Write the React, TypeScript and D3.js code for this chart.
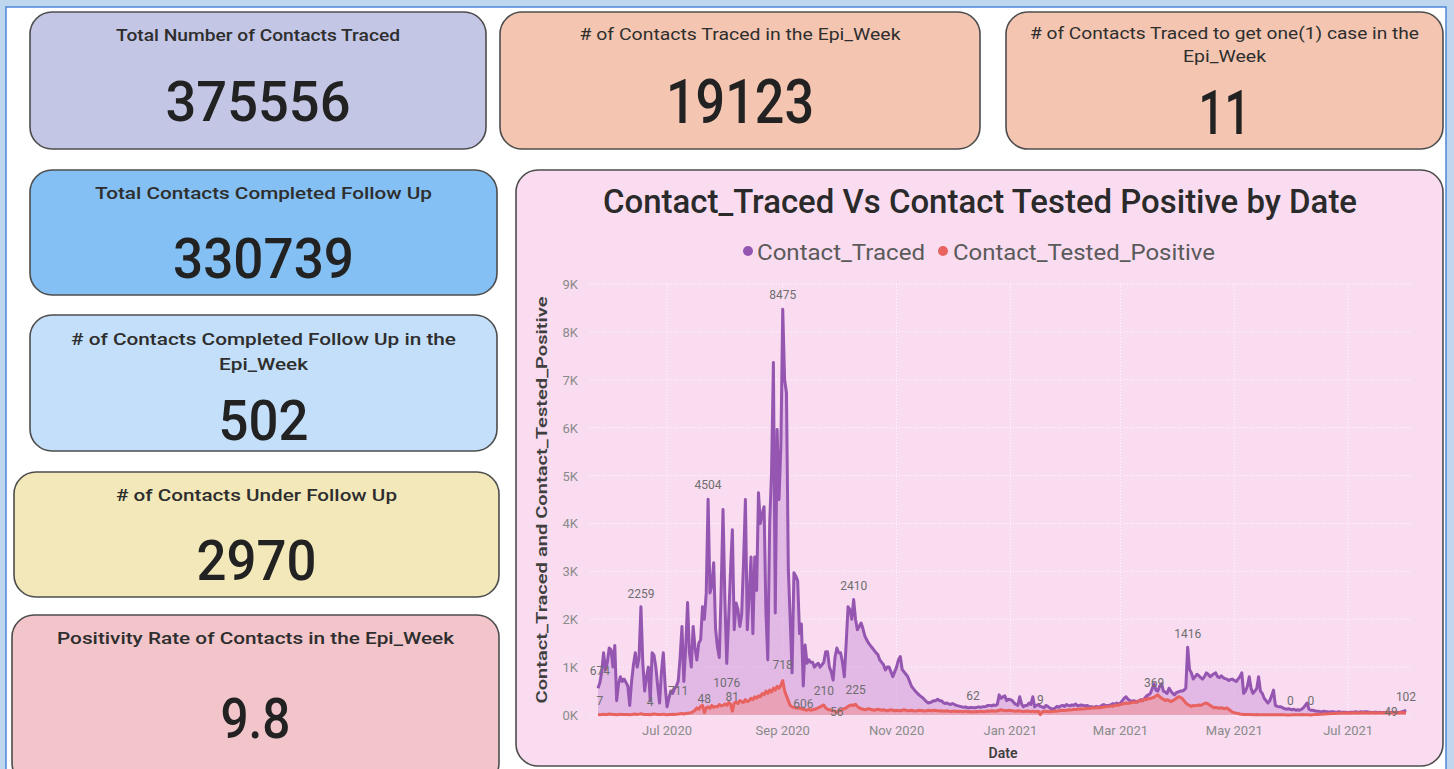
import React from 'react';
import * as d3 from 'd3';

// ---------------- DATA ----------------
const START_DATE = '2020-05-25';

const tracedValues: number[] = [
  560, 674, 900, 1300, 940, 1100, 1400, 1360, 1000, 1450,
  300, 650, 800, 700, 750, 680, 600, 200, 700, 1050,
  1300, 1000, 1200, 2259, 1100, 500, 800, 1000, 300, 1300,
  1250, 1000, 600, 250, 900, 1300, 600, 170, 350, 500,
  450, 550, 600, 711, 1200, 1850, 700, 1400, 2350, 1300,
  1000, 1850, 1400, 1150, 1500, 1570, 2260, 2000, 2550, 4504,
  2550, 2700, 3180, 1800, 1420, 1200, 2600, 4290, 2400, 1076,
  2000, 3000, 3870, 1780, 2340, 2200, 1850, 2100, 3200, 4500,
  1780, 2500, 3300, 1700, 3300, 2600, 4640, 4000, 4200, 4350,
  2130, 1150, 4000, 5060, 7360, 2130, 5960, 4500, 5600, 8475,
  7000, 6730, 3030, 2000, 880, 2970, 2900, 2800, 1700, 1900,
  606, 1460, 1080, 1150, 1100, 1100, 1000, 1050, 1080, 1000,
  1050, 1100, 1320, 1320, 1000, 900, 730, 1200, 1400, 1300,
  1300, 1100, 800, 1500, 2260, 2200, 2000, 2410, 2000, 1780,
  1850, 1920, 1800, 1650, 1570, 1500, 1450, 1400, 1350, 1300,
  1260, 1150, 1100, 1050, 940, 1000, 1000, 900, 800, 900,
  1000, 1150, 1220, 950, 900, 850, 800, 700, 600, 550,
  500, 460, 420, 390, 360, 320, 280, 250, 260, 280,
  300, 300, 330, 300, 300, 260, 240, 250, 230, 220,
  240, 220, 200, 190, 180, 170, 160, 170, 150, 150,
  160, 150, 150, 160, 170, 160, 170, 170, 180, 200,
  200, 190, 210, 200, 220, 420, 350, 380, 400, 300,
  330, 320, 300, 250, 220, 200, 380, 230, 170, 200,
  200, 250, 220, 380, 170, 200, 220, 180, 170, 150,
  200, 180, 150, 130, 120, 150, 180, 160, 190, 200,
  180, 220, 200, 190, 210, 200, 230, 190, 200, 210,
  200, 190, 200, 180, 170, 170, 160, 180, 170, 170,
  200, 220, 190, 200, 200, 220, 240, 220, 250, 230,
  250, 300, 350, 380, 330, 300, 280, 300, 290, 270,
  300, 320, 300, 350, 400, 420, 450, 550, 650, 520,
  500, 600, 650, 500, 480, 450, 560, 500, 450, 420,
  470, 480, 500, 500, 520, 560, 1416, 950, 880, 750,
  800, 850, 820, 780, 750, 800, 880, 850, 800, 830,
  860, 880, 800, 780, 820, 780, 760, 750, 720, 740,
  750, 720, 700, 750, 800, 880, 450, 500, 600, 800,
  550, 450, 500, 550, 800, 500, 450, 350, 300, 250,
  300, 400, 520, 200, 180, 170, 170, 150, 130, 120,
  130, 120, 110, 120, 100, 110, 100, 120, 150, 200,
  250, 120, 100, 100, 90, 80, 80, 70, 70, 80,
  70, 70, 60, 70, 70, 60, 60, 70, 60, 60,
  60, 60, 50, 60, 60, 60, 70, 60, 60, 70,
  60, 70, 70, 60, 60, 50, 60, 60, 50, 60,
  50, 50, 50, 60, 60, 50, 60, 60, 60, 50,
  60, 70, 80, 102,
];

const positiveValues: number[] = [
  10, 7, 12, 15, 8, 10, 20, 15, 10, 12,
  5, 10, 15, 12, 10, 8, 12, 6, 10, 15,
  20, 12, 18, 25, 15, 10, 12, 8, 4, 15,
  20, 15, 10, 8, 12, 18, 10, 6, 10, 12,
  15, 12, 18, 20, 25, 30, 20, 30, 35, 40,
  50, 70, 100, 150, 120, 180, 200, 48, 150, 170,
  140, 200, 160, 180, 170, 220, 190, 200, 230, 200,
  260, 230, 81, 250, 270, 240, 300, 280, 260, 320,
  280, 300, 350, 320, 380, 350, 400, 380, 450, 420,
  500, 450, 520, 480, 560, 520, 600, 560, 620, 718,
  500, 400, 300, 200, 170, 160, 150, 140, 150, 130,
  120, 110, 100, 120, 100, 110, 120, 130, 150, 170,
  190, 210, 150, 120, 110, 100, 90, 80, 56, 90,
  100, 120, 130, 150, 180, 200, 210, 200, 225, 180,
  150, 130, 120, 110, 120, 130, 120, 110, 100, 110,
  120, 110, 100, 110, 100, 90, 100, 110, 100, 90,
  100, 95, 90, 100, 110, 100, 90, 95, 100, 90,
  85, 90, 100, 95, 90, 85, 90, 100, 95, 90,
  100, 95, 90, 85, 90, 80, 85, 90, 80, 75,
  80, 85, 80, 75, 80, 70, 75, 80, 70, 75,
  70, 62, 70, 75, 70, 80, 75, 70, 80, 85,
  80, 90, 85, 80, 90, 100, 110, 100, 95, 90,
  100, 95, 90, 85, 80, 90, 85, 80, 75, 80,
  85, 80, 75, 80, 70, 75, 80, 9, 70, 75,
  80, 75, 70, 75, 80, 85, 80, 90, 95, 100,
  95, 100, 110, 105, 110, 120, 115, 120, 125, 130,
  125, 130, 140, 135, 140, 150, 145, 150, 155, 150,
  160, 165, 170, 175, 180, 190, 185, 200, 210, 205,
  220, 230, 240, 250, 240, 250, 260, 270, 260, 280,
  300, 290, 310, 330, 320, 350, 340, 360, 369, 400,
  420, 380, 350, 330, 300, 320, 300, 280, 300, 320,
  350, 380, 370, 350, 300, 250, 220, 200, 180, 200,
  190, 200, 210, 200, 220, 240, 250, 230, 200, 180,
  150, 160, 150, 140, 150, 140, 130, 150, 120, 90,
  60, 50, 40, 30, 20, 15, 10, 10, 8, 10,
  8, 6, 5, 8, 6, 5, 4, 5, 6, 5,
  4, 5, 6, 4, 5, 3, 4, 5, 3, 2,
  2, 0, 3, 4, 5, 6, 5, 8, 6, 5,
  6, 4, 0, 5, 8, 10, 12, 15, 18, 20,
  22, 25, 28, 30, 32, 30, 35, 38, 40, 42,
  40, 45, 42, 44, 40, 45, 48, 44, 42, 45,
  48, 45, 42, 44, 46, 48, 45, 44, 46, 48,
  45, 44, 46, 48, 47, 49, 46, 48, 45, 46,
  48, 50, 47, 46,
];

// indices of data points that carry a data label
const tracedLabelIdx = [1, 23, 43, 59, 69, 99, 110, 137, 316, 433];
const positiveLabelIdx = [1, 28, 57, 72, 99, 121, 128, 138, 201, 237, 298, 371, 382, 425];

const yTickValues = [0, 1000, 2000, 3000, 4000, 5000, 6000, 7000, 8000, 9000];
const xTickDates = ['2020-07-01', '2020-09-01', '2020-11-01', '2021-01-01', '2021-03-01', '2021-05-01', '2021-07-01'];

const seriesNames = ['Contact_Traced', 'Contact_Tested_Positive'];
const chartTitle = 'Contact_Traced Vs Contact Tested Positive by Date';
const yAxisTitle = 'Contact_Traced and Contact_Tested_Positive';
const xAxisTitle = 'Date';

const kpiTitles: string[][] = [
  ['Total Number of Contacts Traced'],
  ['# of Contacts Traced in the Epi_Week'],
  ['# of Contacts Traced to get one(1) case in the', 'Epi_Week'],
  ['Total Contacts Completed Follow Up'],
  ['# of Contacts Completed Follow Up in the', 'Epi_Week'],
  ['# of Contacts Under Follow Up'],
  ['Positivity Rate of Contacts in the Epi_Week'],
];
const kpiValues = ['375556', '19123', '11', '330739', '502', '2970', '9.8'];

// ---------------- LAYOUT / STYLE ----------------
const W = 1454;
const H = 769;

type CardLayout = {
  x: number; y: number; w: number; h: number; fill: string;
  titleY: number[]; titleW: number[]; titleSize: number; titleWeight: number;
  valueY: number; valueW: number; valueSize: number;
};

const cardLayouts: CardLayout[] = [
  { x: 30, y: 12, w: 456, h: 137, fill: '#c4c6e6', titleY: [41], titleW: [284], titleSize: 17, titleWeight: 500, valueY: 121, valueW: 185, valueSize: 56 },
  { x: 500, y: 12, w: 480, h: 137, fill: '#f4c6b1', titleY: [40], titleW: [321], titleSize: 17, titleWeight: 400, valueY: 123, valueW: 148, valueSize: 62 },
  { x: 1006, y: 12, w: 437, h: 137, fill: '#f4c6b1', titleY: [39, 62], titleW: [389, 83], titleSize: 17, titleWeight: 400, valueY: 134, valueW: 52, valueSize: 62 },
  { x: 30, y: 170, w: 467, h: 125, fill: '#84c0f4', titleY: [199], titleW: [337], titleSize: 17, titleWeight: 500, valueY: 278, valueW: 181, valueSize: 56 },
  { x: 30, y: 315, w: 467, h: 136, fill: '#c3dff9', titleY: [345, 370], titleW: [385, 89], titleSize: 17, titleWeight: 500, valueY: 440, valueW: 90, valueSize: 56 },
  { x: 14, y: 472, w: 485, h: 125, fill: '#f3e8b9', titleY: [501], titleW: [281], titleSize: 17, titleWeight: 500, valueY: 580, valueW: 120, valueSize: 56 },
  { x: 12, y: 615, w: 487, h: 170, fill: '#f2c5cb', titleY: [644], titleW: [397], titleSize: 17, titleWeight: 500, valueY: 738, valueW: 70, valueSize: 56 },
];

const FONT = 'Roboto, "Noto Sans", "DejaVu Sans", sans-serif';
const PURPLE = '#9456b0';
const RED = '#e8625f';

const parseDate = d3.utcParse('%Y-%m-%d');
const startDate = parseDate(START_DATE) as Date;
const dates = tracedValues.map((_, i) => d3.utcDay.offset(startDate, i));

const x = d3.scaleUtc().domain([dates[0], dates[dates.length - 1]]).range([598, 1406]);
const y = d3.scaleLinear().domain([0, 9000]).range([715, 284]);
const fmtTick = d3.utcFormat('%b %Y');
const fmtY = (v: number) => `${v / 1000}K`;

const lineGen = d3.line<number>().x((_, i) => x(dates[i])).y((d) => y(d));
const areaGen = d3.area<number>().x((_, i) => x(dates[i])).y0(y(0)).y1((d) => y(d));

const tracedLabelDy: Record<number, number> = { 1: -8, 23: -9, 43: 14, 59: -10, 69: 24, 99: -10, 110: 22, 137: -10, 316: -9, 433: -9 };
const positiveLabelDy: Record<number, number> = { 1: -10, 28: -9, 57: -10, 72: -10, 99: -12, 121: -10, 128: 4, 138: -10, 201: -12, 237: -11, 298: -10, 371: -10, 382: -10, 425: 3 };

function Card({ l, title, value }: { l: CardLayout; title: string[]; value: string }) {
  const cx = l.x + l.w / 2;
  return (
    <g>
      <rect x={l.x} y={l.y} width={l.w} height={l.h} rx={22} ry={22} fill={l.fill} stroke="#4d4d4d" strokeWidth={1.6} />
      {title.map((t, k) => (
        <text key={k} x={cx} y={l.titleY[k]} textAnchor="middle" fontFamily={FONT} fontSize={l.titleSize}
          fontWeight={l.titleWeight} fill="#2e2e2e" textLength={l.titleW[k]} lengthAdjust="spacingAndGlyphs">{t}</text>
      ))}
      <text x={cx} y={l.valueY} textAnchor="middle" fontFamily={FONT} fontSize={l.valueSize} fontWeight={500}
        fill="#222" textLength={l.valueW} lengthAdjust="spacingAndGlyphs">{value}</text>
    </g>
  );
}

export default function App() {
  const gridX0 = 590;
  const gridX1 = 1412;
  return (
    <div style={{ position: 'absolute', left: 0, top: 0 }}>
      <svg width={W} height={H} viewBox={`0 0 ${W} ${H}`} style={{ display: 'block' }}>
        <rect x={0} y={0} width={W} height={H} fill="#bed6ee" />
        <rect x={6} y={7} width={1440} height={775} fill="#ffffff" stroke="#4d86d8" strokeWidth={1.5} />

        {cardLayouts.map((l, i) => (
          <Card key={i} l={l} title={kpiTitles[i]} value={kpiValues[i]} />
        ))}

        {/* chart card */}
        <rect x={516} y={170} width={927} height={596} rx={22} ry={22} fill="#f9dcf0" stroke="#4d4d4d" strokeWidth={1.6} />
        <text x={980} y={213} textAnchor="middle" fontFamily={FONT} fontSize={33} fontWeight={500} fill="#2a2a2a"
          textLength={754} lengthAdjust="spacingAndGlyphs">{chartTitle}</text>

        {/* legend */}
        <circle cx={748} cy={251} r={5} fill={PURPLE} />
        <text x={757} y={260} fontFamily={FONT} fontSize={22} fill="#5a5a5a" textLength={168} lengthAdjust="spacingAndGlyphs">{seriesNames[0]}</text>
        <circle cx={943} cy={251} r={5} fill={RED} />
        <text x={953} y={260} fontFamily={FONT} fontSize={22} fill="#5a5a5a" textLength={262} lengthAdjust="spacingAndGlyphs">{seriesNames[1]}</text>

        {/* grid */}
        {yTickValues.map((v) => (
          <line key={v} x1={gridX0} x2={gridX1} y1={y(v)} y2={y(v)} stroke="#ffffff" strokeOpacity={0.9} strokeDasharray="1 2" />
        ))}
        {xTickDates.map((d) => {
          const xx = x(parseDate(d) as Date);
          return <line key={d} x1={xx} x2={xx} y1={y(9000)} y2={y(0)} stroke="#ffffff" strokeOpacity={0.8} strokeDasharray="1 2" />;
        })}

        {/* y axis */}
        {yTickValues.map((v) => (
          <text key={v} x={578} y={y(v) + 5} textAnchor="end" fontFamily={FONT} fontSize={13} fill="#8a8a8a">{fmtY(v)}</text>
        ))}
        <text transform={`translate(547,500) rotate(-90)`} textAnchor="middle" fontFamily={FONT} fontSize={15} fontWeight={600}
          fill="#3f3f3f" textLength={407} lengthAdjust="spacingAndGlyphs">{yAxisTitle}</text>

        {/* x axis */}
        {xTickDates.map((d) => {
          const dt = parseDate(d) as Date;
          return (
            <text key={d} x={x(dt)} y={735} textAnchor="middle" fontFamily={FONT} fontSize={13} fill="#8a8a8a">{fmtTick(dt)}</text>
          );
        })}
        <text x={1003} y={758} textAnchor="middle" fontFamily={FONT} fontSize={14} fontWeight={600} fill="#3f3f3f">{xAxisTitle}</text>

        {/* series */}
        <path d={areaGen(tracedValues) || ''} fill="#c58fd6" fillOpacity={0.45} />
        <path d={areaGen(positiveValues) || ''} fill="#ee8a8a" fillOpacity={0.5} />
        <path d={lineGen(tracedValues) || ''} fill="none" stroke={PURPLE} strokeWidth={3} strokeLinejoin="round" />
        <path d={lineGen(positiveValues) || ''} fill="none" stroke={RED} strokeWidth={3} strokeLinejoin="round" />

        {/* data labels */}
        {tracedLabelIdx.map((i) => (
          <text key={`t${i}`} x={x(dates[i])} y={y(tracedValues[i]) + (tracedLabelDy[i] ?? -8)} textAnchor="middle"
            fontFamily={FONT} fontSize={12} fill="#6e6e6e">{tracedValues[i]}</text>
        ))}
        {positiveLabelIdx.map((i) => (
          <text key={`p${i}`} x={x(dates[i])} y={y(positiveValues[i]) + (positiveLabelDy[i] ?? -8)} textAnchor="middle"
            fontFamily={FONT} fontSize={12} fill="#6e6e6e">{positiveValues[i]}</text>
        ))}
      </svg>
    </div>
  );
}
